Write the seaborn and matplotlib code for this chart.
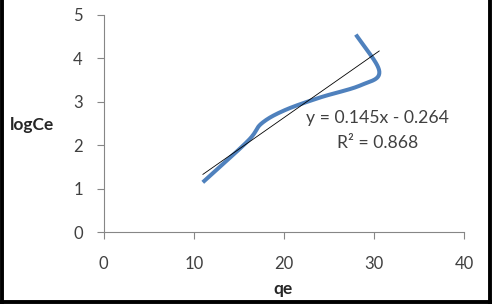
import numpy as np
import pandas as pd
import seaborn as sns
import matplotlib
matplotlib.use("Agg")
import matplotlib.pyplot as plt
from matplotlib.lines import Line2D

# ---- data ----
qe = [11.0, 16.0, 17.5, 20.0, 24.0, 28.5, 30.6, 28.0]
logCe = [1.15, 2.1, 2.5, 2.8, 3.1, 3.38, 3.7, 4.55]
trend_slope = 0.145
trend_intercept = -0.264
eq_text = "y = 0.145x - 0.264"
r2_text = "R\u00b2 = 0.868"
x_ticks = [0, 10, 20, 30, 40]
y_ticks = [0, 1, 2, 3, 4, 5]

sns.set_style("white")
plt.rcParams["font.family"] = ["Lato", "DejaVu Sans"]

fig = plt.figure(figsize=(4.92, 3.04), dpi=100)
ax = fig.add_axes([0.2108, 0.2359, 0.943 - 0.2108, 0.9507 - 0.2359])


def catmull_rom(xs, ys, n=30):
    # Excel-style smoothed rendering of the series line
    P = np.column_stack([xs, ys]).astype(float)
    P = np.vstack([P[0] * 2 - P[1], P, P[-1] * 2 - P[-2]])
    out = []
    for i in range(1, len(P) - 2):
        p0, p1, p2, p3 = P[i - 1], P[i], P[i + 1], P[i + 2]
        t = np.linspace(0, 1, n, endpoint=(i == len(P) - 3))[:, None]
        seg = 0.5 * ((2 * p1) + (-p0 + p2) * t + (2 * p0 - 5 * p1 + 4 * p2 - p3) * t ** 2
                     + (-p0 + 3 * p1 - 3 * p2 + p3) * t ** 3)
        out.append(seg)
    out = np.vstack(out)
    return out[:, 0], out[:, 1]


sx, sy = catmull_rom(qe, logCe)
smooth = pd.DataFrame({"qe": sx, "logCe": sy})
sns.lineplot(data=smooth, x="qe", y="logCe", sort=False, ax=ax,
             color="#4F81BD", lw=2.9, solid_capstyle="butt", estimator=None)

# linear trendline over the data range
tx = np.array([min(qe), max(qe)])
ax.plot(tx, trend_slope * tx + trend_intercept, color="black", lw=0.6)

ax.set_xlim(0, 40)
ax.set_ylim(0, 5)
ax.set_xticks(x_ticks)
ax.set_yticks(y_ticks)
ax.tick_params(axis="x", direction="out", length=5, width=0.8, color="#868686",
               labelsize=12, labelcolor="#404040", pad=12, bottom=True)
ax.tick_params(axis="y", direction="out", length=5, width=0.8, color="#868686",
               labelsize=12, labelcolor="#404040", pad=10, left=True)
for s in ["top", "right"]:
    ax.spines[s].set_visible(False)
for s in ["left", "bottom"]:
    ax.spines[s].set_color("#868686")
    ax.spines[s].set_linewidth(0.8)
ax.set_xlabel("")
ax.set_ylabel("")

fig.text(283 / 492, 1 - 289 / 304, "qe", ha="center", va="center",
         fontsize=12.5, fontweight="bold", color="#262626")
fig.text(32 / 492, 1 - 125 / 304, "logCe", ha="center", va="center",
         fontsize=12.5, fontweight="bold", color="#262626")

fig.text(377.5 / 492, 1 - 118 / 304, eq_text, ha="center", va="center",
         fontsize=12.7, color="#404040")
fig.text(378 / 492, 1 - 143 / 304, r2_text, ha="center", va="center",
         fontsize=12.7, color="#404040")

# black frame around the picture (left, bottom, right)
for xs_, ys_ in [([2 / 492, 2 / 492], [0, 1]),
                 ([0, 1], [2 / 304, 2 / 304]),
                 ([489.5 / 492, 489.5 / 492], [0, 1])]:
    fig.add_artist(Line2D(xs_, ys_, transform=fig.transFigure, color="black", lw=2.8))

fig.savefig("out.png", dpi=100)
